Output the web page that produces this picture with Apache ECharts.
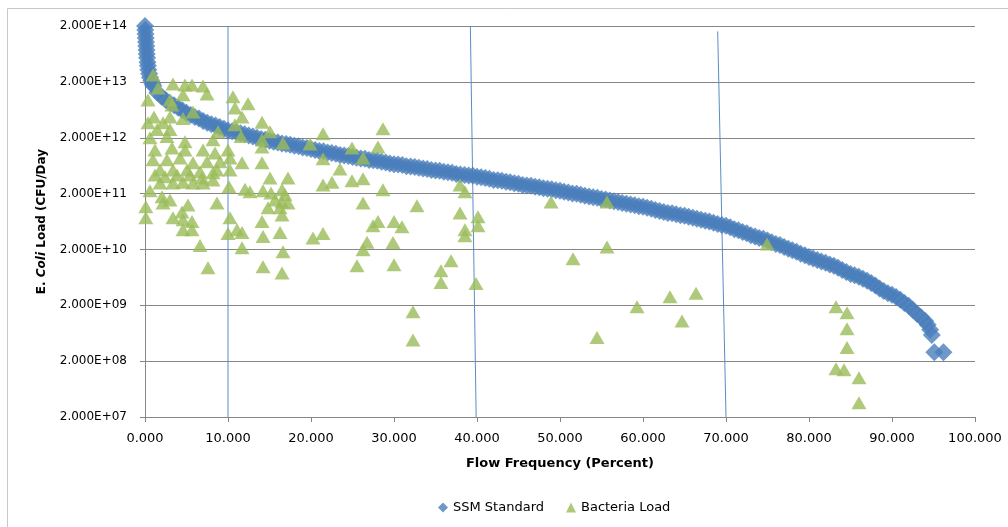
<!DOCTYPE html>
<html>
<head>
<meta charset="utf-8">
<script src="https://cdn.jsdelivr.net/npm/echarts@6/dist/echarts.min.js"></script>
<style>
html,body{margin:0;padding:0;background:#fff;}
#chart{width:1008px;height:527px;}
</style>
</head>
<body>
<div id="chart"></div>
<script>
// SSM Standard curve (flow frequency %, E. coli load CFU/day)
const ssmX = [0,0.03,0.06,0.09,0.12,0.15,0.18,0.21,0.25,0.3,0.35,0.4,0.5,0.6,0.75,0.9,
1.0,1.5,2.0,2.5,3.0,3.5,4.0,4.5,5.0,5.5,6.0,6.5,7.0,7.5,8.0,8.5,9.0,9.5,
10.0,10.5,11.0,11.5,12.0,12.5,13.0,13.5,14.0,14.5,15.0,15.5,16.0,16.5,17.0,17.5,18.0,18.5,19.0,19.5,
20.0,20.5,21.0,21.5,22.0,22.5,23.0,23.5,24.0,24.5,25.0,25.5,26.0,26.5,27.0,27.5,28.0,28.5,29.0,29.5,
30.0,30.5,31.0,31.5,32.0,32.5,33.0,33.5,34.0,34.5,35.0,35.5,36.0,36.5,37.0,37.5,38.0,38.5,39.0,39.5,
40.0,40.5,41.0,41.5,42.0,42.5,43.0,43.5,44.0,44.5,45.0,45.5,46.0,46.5,47.0,47.5,48.0,48.5,49.0,49.5,
50.0,50.5,51.0,51.5,52.0,52.5,53.0,53.5,54.0,54.5,55.0,55.5,56.0,56.5,57.0,57.5,58.0,58.5,59.0,59.5,
60.0,60.5,61.0,61.5,62.0,62.5,63.0,63.5,64.0,64.5,65.0,65.5,66.0,66.5,67.0,67.5,68.0,68.5,69.0,69.5,
70.0,70.5,71.0,71.5,72.0,72.5,73.0,73.5,74.0,74.5,75.0,75.5,76.0,76.5,77.0,77.5,78.0,78.5,79.0,79.5,
80.0,80.5,81.0,81.5,82.0,82.5,83.0,83.5,84.0,84.5,85.0,85.5,86.0,86.5,87.0,87.5,88.0,88.5,89.0,89.5,
90.0,90.5,91.0,91.5,92.0,92.5,93.0,93.5,94.0,94.3,94.6,94.8,95.1,96.2];
const ssmY = [2.0e14,1.7e14,1.44e14,1.22e14,1.03e14,8.8e13,7.4e13,6.3e13,5.4e13,4.5e13,3.9e13,3.3e13,2.8e13,2.4e13,2.1e13,1.84e13,
1.69e13,1.27e13,1.08e13,9.5e12,8.4e12,7.6e12,6.9e12,6.2e12,5.6e12,5.1e12,4.7e12,4.4e12,4.0e12,3.7e12,3.5e12,3.3e12,3.1e12,2.9e12,
2.7e12,2.6e12,2.5e12,2.4e12,2.3e12,2.2e12,2.1e12,2.0e12,1.9e12,1.84e12,1.77e12,1.69e12,1.65e12,1.58e12,1.55e12,1.49e12,1.43e12,1.40e12,1.34e12,1.31e12,
1.26e12,1.21e12,1.16e12,1.14e12,1.09e12,1.07e12,1.03e12,9.8e11,9.6e11,9.4e11,9.0e11,8.8e11,8.5e11,8.4e11,8.0e11,7.9e11,7.7e11,7.4e11,7.2e11,6.9e11,
6.7e11,6.6e11,6.5e11,6.2e11,6.1e11,6.0e11,5.8e11,5.6e11,5.5e11,5.3e11,5.2e11,5.1e11,4.9e11,4.8e11,4.7e11,4.5e11,4.4e11,4.3e11,4.2e11,4.15e11,
4.0e11,3.9e11,3.8e11,3.7e11,3.5e11,3.45e11,3.4e11,3.25e11,3.2e11,3.05e11,3.0e11,2.85e11,2.8e11,2.75e11,2.65e11,2.6e11,2.5e11,2.45e11,2.4e11,2.3e11,
2.25e11,2.15e11,2.1e11,2.0e11,1.98e11,1.9e11,1.82e11,1.78e11,1.71e11,1.68e11,1.6e11,1.57e11,1.51e11,1.45e11,1.42e11,1.36e11,1.31e11,1.28e11,1.23e11,1.18e11,
1.16e11,1.11e11,1.07e11,1.02e11,9.8e10,9.4e10,9.0e10,8.9e10,8.5e10,8.2e10,8.0e10,7.7e10,7.4e10,7.1e10,6.8e10,6.5e10,6.3e10,6.0e10,5.7e10,5.5e10,
5.3e10,5.0e10,4.6e10,4.4e10,4.1e10,3.9e10,3.6e10,3.4e10,3.2e10,3.1e10,2.9e10,2.7e10,2.5e10,2.4e10,2.2e10,2.05e10,1.93e10,1.81e10,1.67e10,1.57e10,
1.47e10,1.38e10,1.30e10,1.22e10,1.15e10,1.08e10,1.02e10,9.4e9,8.6e9,7.9e9,7.3e9,6.9e9,6.5e9,6.0e9,5.5e9,5.0e9,4.5e9,4.0e9,3.6e9,3.3e9,
3.1e9,2.8e9,2.5e9,2.2e9,1.96e9,1.66e9,1.41e9,1.22e9,1.05e9,9.0e8,7.3e8,5.9e8,2.9e8,2.9e8];

// Bacteria Load samples
const bactX = [0.96,1.57,3.37,4.82,5.66,6.99,7.47,0.36,3.01,4.58,3.25,10.6,12.41,10.84,5.78,4.58,3.01,1.08,0.36,2.17,
1.45,3.01,0.6,2.65,4.82,8.8,8.19,11.69,14.1,15.06,11.57,14.1,14.1,16.63,19.88,21.45,21.45,10.84,6.99,8.43,
10.0,1.2,3.25,4.82,0.96,2.65,4.22,5.78,7.47,9.04,10.24,11.69,14.1,1.81,3.37,5.06,6.63,8.67,10.24,1.2,
2.41,3.86,5.42,6.87,8.19,1.81,3.37,4.58,5.78,6.99,8.19,0.6,2.05,3.01,2.17,0.1,0.1,5.18,4.46,3.37,
4.58,5.66,4.58,5.66,8.67,10.12,10.24,10.0,11.08,6.63,7.59,15.06,17.23,21.45,22.53,12.05,12.65,14.22,15.18,16.51,
16.87,15.66,16.51,17.23,14.82,16.27,16.51,14.1,11.69,14.22,16.27,20.24,21.45,11.69,16.63,14.22,16.51,
28.67,24.94,28.07,26.27,23.49,24.94,26.27,28.67,26.27,32.77,37.95,37.95,38.55,40.12,40.12,38.55,38.55,27.47,28.07,30.0,
30.96,26.75,29.88,26.27,25.54,30.0,36.87,35.66,35.66,39.88,32.29,32.29,48.92,55.66,55.66,51.57,59.28,54.46,63.25,66.39,
64.7,74.94,83.25,84.58,84.58,84.58,83.25,84.22,86.02,86.02];
const bactY = [2.66e13,1.56e13,1.84e13,1.76e13,1.75e13,1.69e13,1.21e13,9.5e12,9.5e12,1.17e13,7.7e12,1.08e13,8.1e12,6.8e12,5.8e12,4.4e12,4.7e12,4.7e12,3.7e12,3.7e12,
2.8e12,2.8e12,2.0e12,2.1e12,1.7e12,2.55e12,1.83e12,4.7e12,3.8e12,2.55e12,2.1e12,1.83e12,1.37e12,1.61e12,1.55e12,2.35e12,8.4e11,3.4e12,1.21e12,1.07e12,
1.21e12,1.21e12,1.31e12,1.21e12,8.1e11,8.1e11,8.7e11,7.1e11,7.4e11,7.4e11,8.7e11,7.1e11,7.1e11,5.3e11,5.3e11,5.3e11,4.9e11,5.3e11,5.3e11,4.3e11,
4.0e11,4.3e11,4.3e11,3.8e11,4.7e11,3.1e11,3.1e11,3.2e11,3.1e11,3.1e11,3.5e11,2.25e11,1.76e11,1.54e11,1.36e11,1.16e11,7.4e10,1.25e11,9.4e10,7.4e10,
6.8e10,6.3e10,4.5e10,4.5e10,1.36e11,2.65e11,7.4e10,3.85e10,4.5e10,2.35e10,9.4e9,3.8e11,3.8e11,2.85e11,3.2e11,2.4e11,2.15e11,2.25e11,2.05e11,2.35e11,
1.9e11,1.54e11,1.42e11,1.36e11,1.11e11,1.11e11,8.3e10,6.3e10,4.0e10,3.4e10,4.0e10,3.2e10,3.85e10,2.15e10,1.81e10,9.8e9,7.6e9,
2.9e12,1.31e12,1.37e12,8.7e11,5.5e11,3.4e11,3.7e11,2.35e11,1.36e11,1.21e11,9.0e10,2.85e11,2.15e11,7.7e10,5.3e10,4.5e10,3.5e10,5.3e10,6.3e10,6.3e10,
5.1e10,2.7e10,2.65e10,1.97e10,1.02e10,1.06e10,1.25e10,8.3e9,5.1e9,4.9e9,1.53e9,4.8e8,1.42e11,1.42e11,2.2e10,1.36e10,1.88e9,5.3e8,2.85e9,3.3e9,
1.05e9,2.5e10,1.88e9,1.47e9,7.6e8,3.5e8,1.46e8,1.4e8,1.01e8,3.6e7];

// Reference flow-zone divider lines (start/end points)
const dividerLines = [
  [[10.0, 2.0e14], [10.0, 2.0e7]],
  [[39.2, 2.0e14], [39.9, 2.0e7]],
  [[69.0, 1.6e14], [70.0, 2.0e7]]
];

const xTickMin = 0, xTickMax = 100, xTickStep = 10;
const yMin = 2e7, yMax = 2e14;

function zip(xs, ys){ return xs.map((x,i)=>[x, ys[i]]); }
function sci(v){
  const r = Number(Number(v).toPrecision(3));
  const parts = r.toExponential(3).split('e');
  const e = parts[1];
  const sign = e[0];
  const digits = e.slice(1).padStart(2,'0');
  return parts[0] + 'E' + sign + digits;
}

const FONT = 'DejaVu Sans';
const DIAMOND = 'path://M5 0L10 5L5 10L0 5Z';
const chart = echarts.init(document.getElementById('chart'), null, {renderer:'canvas'});

const series = [];
dividerLines.forEach(function(seg){
  series.push({
    type:'line', data: seg, symbol:'none', silent:true,
    lineStyle:{color:'#5b8bc9', width:1}, z:1, animation:false
  });
});
series.push({
  name:'SSM Standard', type:'scatter', data: zip(ssmX, ssmY),
  symbol:DIAMOND, symbolSize:18,
  itemStyle:{color:'#4a7ebb'}, z:2, animation:false
});
series.push({
  name:'Bacteria Load', type:'scatter', data: zip(bactX, bactY),
  symbol:'triangle', symbolSize:[15,13],
  itemStyle:{color:'#9bbb59'}, z:3, animation:false
});

chart.setOption({
  animation:false,
  backgroundColor:'#ffffff',
  textStyle:{fontFamily:FONT},
  graphic:[{
    type:'rect', shape:{x:7.5, y:8.5, width:1100, height:600},
    style:{fill:null, stroke:'#c8c8c8', lineWidth:1}, silent:true, z:-10
  }],
  grid:{left:145, right:33, top:26, bottom:110, containLabel:false},
  legend:{
    data:[{name:'SSM Standard', icon:DIAMOND},{name:'Bacteria Load', icon:'triangle'}],
    left:433, top:496, itemWidth:10, itemHeight:10, itemGap:22,
    textStyle:{fontFamily:FONT, fontSize:13, color:'#000'}
  },
  xAxis:{
    type:'value', min:xTickMin, max:xTickMax, interval:xTickStep,
    name:'Flow Frequency (Percent)', nameLocation:'middle', nameGap:40,
    nameTextStyle:{fontFamily:FONT, fontWeight:'bold', fontSize:13, color:'#000'},
    axisLine:{show:true, lineStyle:{color:'#868686'}},
    axisTick:{show:true, length:5, lineStyle:{color:'#868686'}},
    axisLabel:{formatter:function(v){return v.toFixed(3);}, fontFamily:FONT, fontSize:13, color:'#000', margin:15},
    splitLine:{show:false}
  },
  yAxis:{
    type:'log', logBase:10, min:yMin, max:yMax, interval:1,
    name:'{b|E. }{i|Coli}{b| Load (CFU/Day}', nameLocation:'middle', nameGap:97, nameRotate:90,
    nameTextStyle:{fontFamily:FONT, fontWeight:'bold', fontSize:12, color:'#000',
      rich:{
        b:{fontFamily:FONT, fontWeight:'bold', fontSize:12, color:'#000'},
        i:{fontFamily:FONT, fontWeight:'bold', fontStyle:'italic', fontSize:12, color:'#000'}
      }},
    axisLine:{show:true, lineStyle:{color:'#868686'}},
    axisTick:{show:true, length:5, lineStyle:{color:'#868686'}},
    axisLabel:{formatter:sci, fontFamily:FONT, fontSize:12, color:'#000', margin:18},
    splitLine:{show:true, lineStyle:{color:'#868686', width:1}}
  },
  series: series
});
</script>
</body>
</html>
